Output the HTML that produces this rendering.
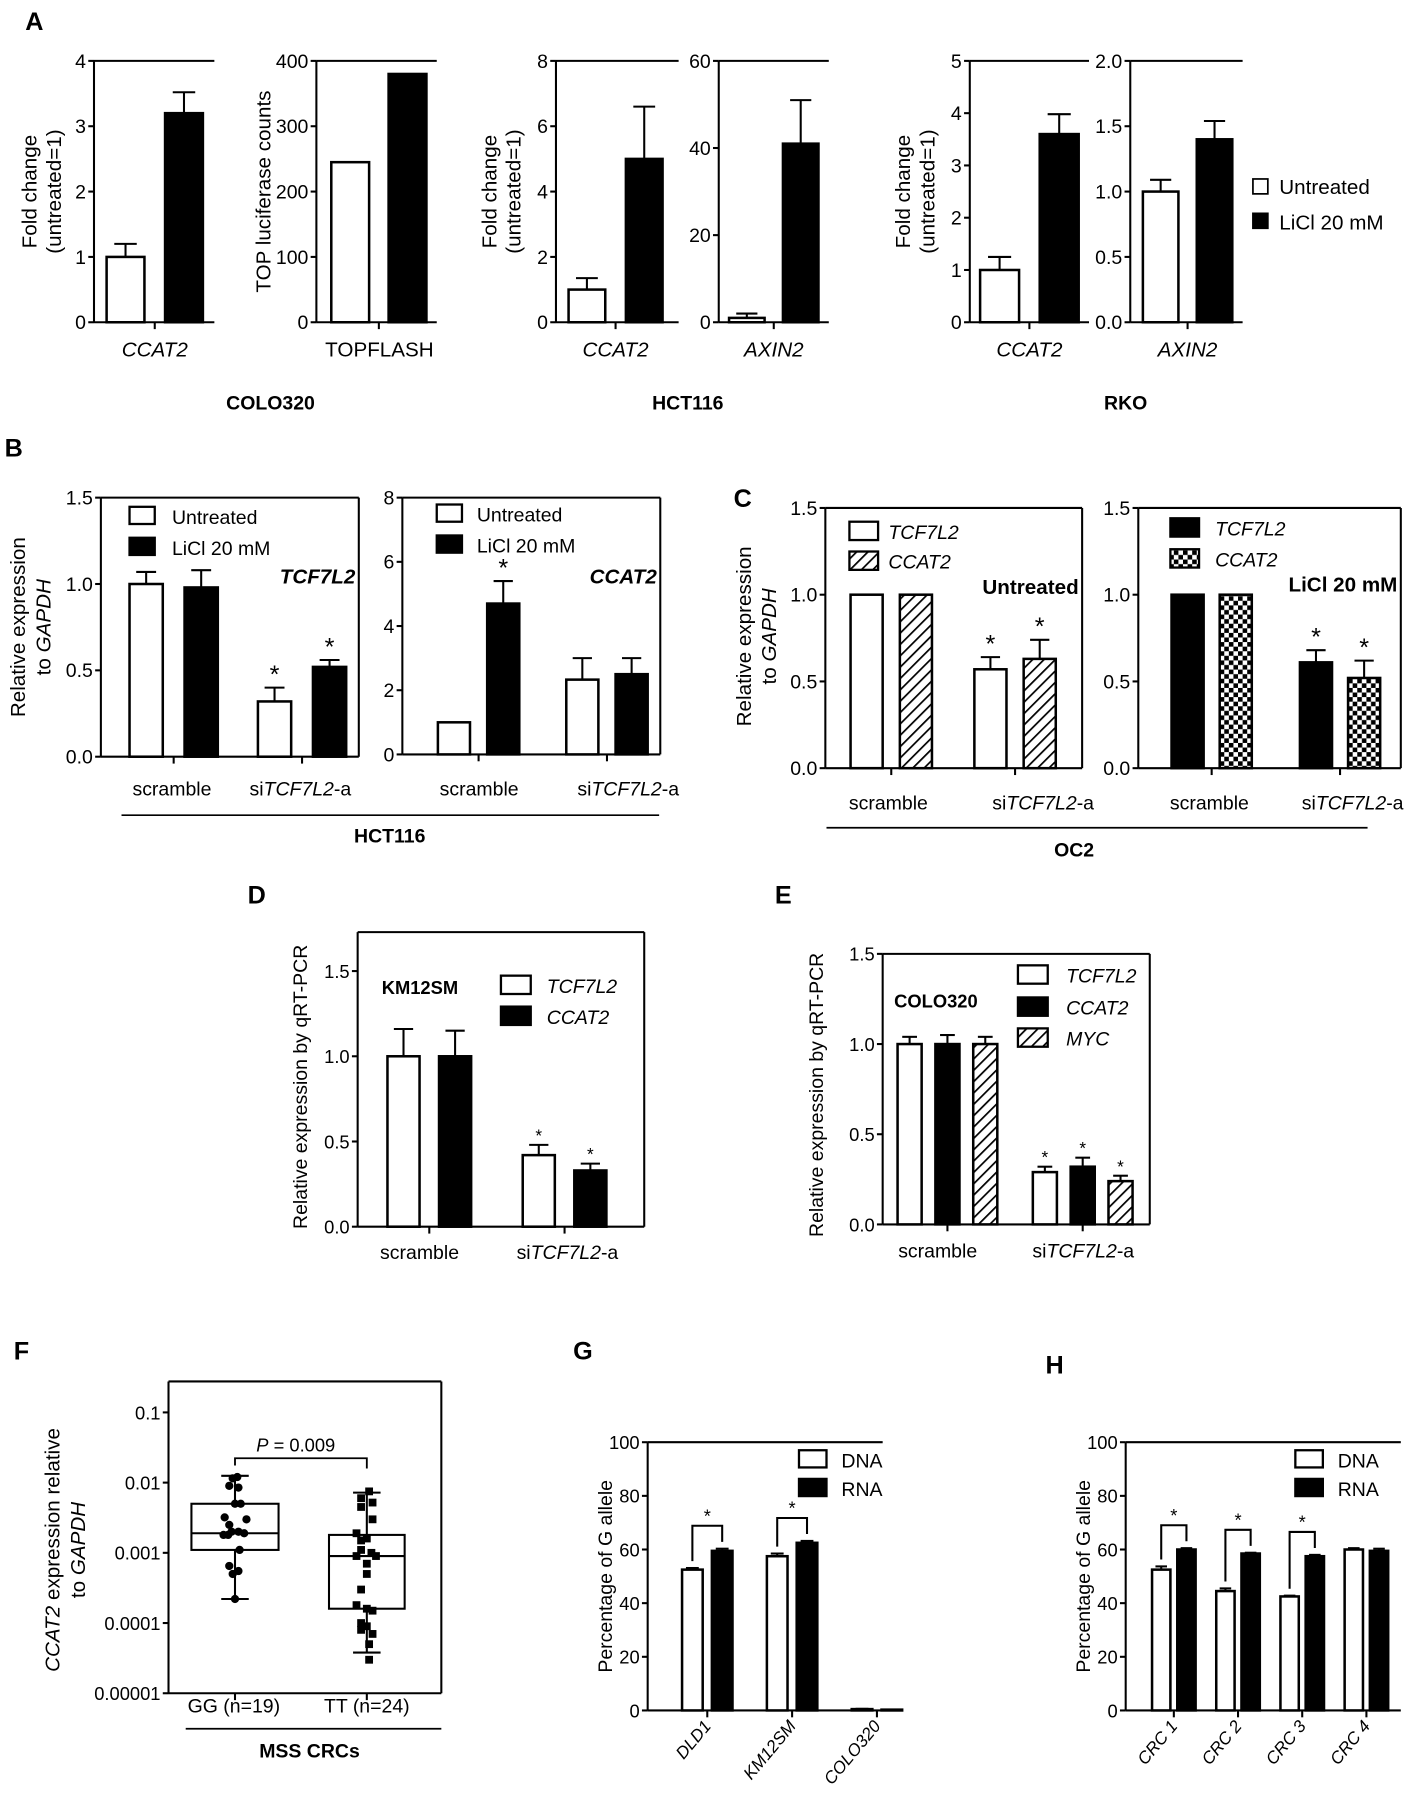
<!DOCTYPE html>
<html><head><meta charset="utf-8"><style>
html,body{margin:0;padding:0;background:#fff}
svg{display:block}
text{font-family:"Liberation Sans",sans-serif;fill:#000}
.b{font-weight:bold}.i{font-style:italic}
</style></head><body>
<svg id="fig" width="1418" height="1800" viewBox="0 0 1237 1570" xmlns="http://www.w3.org/2000/svg">
<defs>
<pattern id="hatch" patternUnits="userSpaceOnUse" width="7" height="7" patternTransform="rotate(45)"><rect width="7" height="7" fill="#fff"/><line x1="0" y1="0" x2="0" y2="7" stroke="#000" stroke-width="3"/></pattern>
<pattern id="check" patternUnits="userSpaceOnUse" width="8" height="8"><rect width="8" height="8" fill="#fff"/><rect width="4" height="4" fill="#000"/><rect x="4" y="4" width="4" height="4" fill="#000"/></pattern>
</defs>
<rect width="1237" height="1570" fill="#fff"/>
<g id="root"></g>
<!-- Panel letters -->
<text x="22" y="26" font-size="22" class="b">A</text>
<text x="4" y="398" font-size="22" class="b">B</text>
<text x="640" y="442" font-size="22" class="b">C</text>
<text x="216" y="788" font-size="22" class="b">D</text>
<text x="676" y="788" font-size="22" class="b">E</text>
<text x="12" y="1186" font-size="22" class="b">F</text>
<text x="500" y="1186" font-size="22" class="b">G</text>
<text x="912" y="1198" font-size="22" class="b">H</text>

<!-- A titles -->
<g font-size="18">
<text transform="translate(32,167) rotate(-90)" text-anchor="middle">Fold change</text>
<text transform="translate(53,167) rotate(-90)" text-anchor="middle">(untreated=1)</text>
<text transform="translate(236,167) rotate(-90)" text-anchor="middle">TOP luciferase counts</text>
<text transform="translate(433,167) rotate(-90)" text-anchor="middle">Fold change</text>
<text transform="translate(454,167) rotate(-90)" text-anchor="middle">(untreated=1)</text>
<text transform="translate(794,167) rotate(-90)" text-anchor="middle">Fold change</text>
<text transform="translate(815,167) rotate(-90)" text-anchor="middle">(untreated=1)</text>
</g>
<g font-size="18" text-anchor="middle">
<text x="135" y="311" class="i">CCAT2</text>
<text x="331" y="311">TOPFLASH</text>
<text x="537" y="311" class="i">CCAT2</text>
<text x="675" y="311" class="i">AXIN2</text>
<text x="898" y="311" class="i">CCAT2</text>
<text x="1036" y="311" class="i">AXIN2</text>
</g>
<g font-size="17" class="b" text-anchor="middle">
<text x="236" y="357">COLO320</text>
<text x="600" y="357">HCT116</text>
<text x="982" y="357">RKO</text>
</g>
<g font-size="18">
<rect x="1093" y="156" width="13" height="13" fill="#fff" stroke="#000" stroke-width="1.5"/>
<text x="1116" y="169">Untreated</text>
<rect x="1093" y="186" width="13" height="13" fill="#000" stroke="#000" stroke-width="1.5"/>
<text x="1116" y="200">LiCl 20 mM</text>
</g>

<!-- B -->
<text transform="translate(22,547) rotate(-90)" text-anchor="middle" font-size="18">Relative expression</text>
<text transform="translate(44,547) rotate(-90)" text-anchor="middle" font-size="18">to <tspan class="i">GAPDH</tspan></text>
<g font-size="17">
<rect x="113" y="442" width="22" height="15" fill="#fff" stroke="#000" stroke-width="2"/><text x="150" y="457">Untreated</text>
<rect x="113" y="469" width="22" height="15" fill="#000" stroke="#000" stroke-width="2"/><text x="150" y="484">LiCl 20 mM</text>
<rect x="381" y="440" width="22" height="15" fill="#fff" stroke="#000" stroke-width="2"/><text x="416" y="455">Untreated</text>
<rect x="381" y="467" width="22" height="15" fill="#000" stroke="#000" stroke-width="2"/><text x="416" y="482">LiCl 20 mM</text>
</g>
<text x="310" y="509" font-size="18" class="b i" text-anchor="end">TCF7L2</text>
<text x="573" y="509" font-size="18" class="b i" text-anchor="end">CCAT2</text>
<g font-size="17" text-anchor="middle">
<text x="150" y="694">scramble</text>
<text x="262" y="694">si<tspan class="i">TCF7L2</tspan>-a</text>
<text x="418" y="694">scramble</text>
<text x="548" y="694">si<tspan class="i">TCF7L2</tspan>-a</text>
</g>
<line x1="106" y1="711" x2="575" y2="711" stroke="#000" stroke-width="1.5"/>
<text x="340" y="735" font-size="17" class="b" text-anchor="middle">HCT116</text>

<!-- C -->
<text transform="translate(655,555) rotate(-90)" text-anchor="middle" font-size="18">Relative expression</text>
<text transform="translate(677,555) rotate(-90)" text-anchor="middle" font-size="18">to <tspan class="i">GAPDH</tspan></text>
<g font-size="17" class="i">
<rect x="741" y="455" width="25" height="16" fill="#fff" stroke="#000" stroke-width="2"/><text x="775" y="470">TCF7L2</text>
<rect x="741" y="481" width="25" height="16" fill="url(#hatch)" stroke="#000" stroke-width="2"/><text x="775" y="496">CCAT2</text>
<rect x="1021" y="452" width="25" height="16" fill="#000" stroke="#000" stroke-width="2"/><text x="1060" y="467">TCF7L2</text>
<rect x="1021" y="479" width="25" height="16" fill="url(#check)" stroke="#000" stroke-width="2"/><text x="1060" y="494">CCAT2</text>
</g>
<text x="941" y="518" font-size="18" class="b" text-anchor="end">Untreated</text>
<text x="1219" y="516" font-size="18" class="b" text-anchor="end">LiCl 20 mM</text>
<g font-size="17" text-anchor="middle">
<text x="775" y="706">scramble</text>
<text x="910" y="706">si<tspan class="i">TCF7L2</tspan>-a</text>
<text x="1055" y="706">scramble</text>
<text x="1180" y="706">si<tspan class="i">TCF7L2</tspan>-a</text>
</g>
<line x1="721" y1="722" x2="1193" y2="722" stroke="#000" stroke-width="1.5"/>
<text x="937" y="747" font-size="17" class="b" text-anchor="middle">OC2</text>

<!-- D -->
<text transform="translate(268,948) rotate(-90)" text-anchor="middle" font-size="17">Relative expression by qRT-PCR</text>
<text x="333" y="867" font-size="16" class="b">KM12SM</text>
<g font-size="17" class="i">
<rect x="437" y="851" width="26" height="16" fill="#fff" stroke="#000" stroke-width="2"/><text x="477" y="866">TCF7L2</text>
<rect x="437" y="878" width="26" height="16" fill="#000" stroke="#000" stroke-width="2"/><text x="477" y="893">CCAT2</text>
</g>
<g font-size="17" text-anchor="middle">
<text x="366" y="1098">scramble</text>
<text x="495" y="1098">si<tspan class="i">TCF7L2</tspan>-a</text>
</g>

<!-- E -->
<text transform="translate(718,955) rotate(-90)" text-anchor="middle" font-size="17">Relative expression by qRT-PCR</text>
<text x="780" y="879" font-size="16" class="b">COLO320</text>
<g font-size="17" class="i">
<rect x="888" y="842" width="26" height="16" fill="#fff" stroke="#000" stroke-width="2"/><text x="930" y="857">TCF7L2</text>
<rect x="888" y="870" width="26" height="16" fill="#000" stroke="#000" stroke-width="2"/><text x="930" y="885">CCAT2</text>
<rect x="888" y="897" width="26" height="16" fill="url(#hatch)" stroke="#000" stroke-width="2"/><text x="930" y="912">MYC</text>
</g>
<g font-size="17" text-anchor="middle">
<text x="818" y="1097">scramble</text>
<text x="945" y="1097">si<tspan class="i">TCF7L2</tspan>-a</text>
</g>

<!-- F -->
<text transform="translate(52,1352) rotate(-90)" text-anchor="middle" font-size="18"><tspan class="i">CCAT2</tspan> expression relative</text>
<text transform="translate(74,1352) rotate(-90)" text-anchor="middle" font-size="18">to <tspan class="i">GAPDH</tspan></text>
<text x="258" y="1266" font-size="16" text-anchor="middle"><tspan class="i">P</tspan> = 0.009</text>
<g font-size="17" text-anchor="middle">
<text x="204" y="1494">GG (n=19)</text>
<text x="320" y="1494">TT (n=24)</text>
</g>
<line x1="162" y1="1508" x2="385" y2="1508" stroke="#000" stroke-width="1.5"/>
<text x="270" y="1533" font-size="17" class="b" text-anchor="middle">MSS CRCs</text>

<!-- G/H -->
<text transform="translate(534,1375) rotate(-90)" text-anchor="middle" font-size="17">Percentage of G allele</text>
<text transform="translate(951,1375) rotate(-90)" text-anchor="middle" font-size="17">Percentage of G allele</text>
<g font-size="17">
<rect x="697" y="1265" width="24" height="15" fill="#fff" stroke="#000" stroke-width="2"/><text x="734" y="1280">DNA</text>
<rect x="697" y="1290" width="24" height="15" fill="#000" stroke="#000" stroke-width="2"/><text x="734" y="1305">RNA</text>
</g>
<g font-size="17">
<rect x="1130" y="1265" width="24" height="15" fill="#fff" stroke="#000" stroke-width="2"/><text x="1167" y="1280">DNA</text>
<rect x="1130" y="1290" width="24" height="15" fill="#000" stroke="#000" stroke-width="2"/><text x="1167" y="1305">RNA</text>
</g>
</svg>
<script>
// ---------- data ----------
const a1Untreated=[1.0], a1Licl=[3.2], a1UntrErr=[0.2], a1LiclErr=[0.32];
const a1Ticks=[0,1,2,3,4];
const a2Untreated=[245], a2Licl=[380];
const a2Ticks=[0,100,200,300,400];
const a3Untreated=[1.0], a3Licl=[5.0], a3UntrErr=[0.35], a3LiclErr=[1.6];
const a3Ticks=[0,2,4,6,8];
const a4Untreated=[1.0], a4Licl=[41], a4UntrErr=[1.0], a4LiclErr=[10];
const a4Ticks=[0,20,40,60];
const a5Untreated=[1.0], a5Licl=[3.6], a5UntrErr=[0.25], a5LiclErr=[0.38];
const a5Ticks=[0,1,2,3,4,5];
const a6Untreated=[1.0], a6Licl=[1.4], a6UntrErr=[0.09], a6LiclErr=[0.14];
const a6Ticks=[0,0.5,1.0,1.5,2.0];

const bCategories=['scramble','siTCF7L2-a'];
const b1Untreated=[1.0,0.32], b1Licl=[0.98,0.52], b1UntrErr=[0.07,0.08], b1LiclErr=[0.10,0.04];
const b1Stars=[[false,true],[false,true]];
const b1Ticks=[0,0.5,1.0,1.5];
const b2Untreated=[1.0,2.33], b2Licl=[4.7,2.5], b2UntrErr=[0,0.67], b2LiclErr=[0.7,0.5];
const b2Stars=[[false,false],[true,false]];
const b2Ticks=[0,2,4,6,8];

const c1Tcf=[1.0,0.57], c1Ccat=[1.0,0.63], c1TcfErr=[0,0.07], c1CcatErr=[0,0.11];
const c2Tcf=[1.0,0.61], c2Ccat=[1.0,0.52], c2TcfErr=[0,0.07], c2CcatErr=[0,0.10];
const cStars=[[false,true],[false,true]];
const cTicks=[0,0.5,1.0,1.5];

const dTcf=[1.0,0.42], dCcat=[1.0,0.33], dTcfErr=[0.16,0.06], dCcatErr=[0.15,0.04];
const dStars=[[false,true],[false,true]];
const dTicks=[0,0.5,1.0,1.5];

const eTcf=[1.0,0.29], eCcat=[1.0,0.32], eMyc=[1.0,0.24];
const eTcfErr=[0.04,0.03], eCcatErr=[0.05,0.05], eMycErr=[0.04,0.03];
const eStars=[[false,true],[false,true],[false,true]];
const eTicks=[0,0.5,1.0,1.5];

const fGroups=['GG (n=19)','TT (n=24)'];
const fGG=[0.012,0.0115,0.009,0.0085,0.005,0.005,0.0032,0.003,0.0025,0.002,0.002,0.0019,0.0018,0.0018,0.0011,0.00065,0.00055,0.0005,0.00022];
const fTT=[0.0075,0.006,0.0052,0.0045,0.003,0.0019,0.0016,0.0015,0.0011,0.0010,0.0009,0.0009,0.0007,0.0005,0.0003,0.00018,0.00016,0.00015,0.0001,0.00009,0.00008,0.00007,0.00005,0.00003];
const fGGJitter=[2,-2,-5,3,0,5,-9,10,-5,-3,3,8,-10,-6,4,-5,3,-2,0];
const fTTJitter=[2,-5,5,-5,5,-9,0,-5,-5,4,8,-9,0,0,-5,-9,0,5,-5,0,-5,5,2,2];
const fGGBox={lo:0.00022,q1:0.0011,med:0.0019,q3:0.005,hi:0.0125};
const fTTBox={lo:0.000038,q1:0.00016,med:0.0009,q3:0.0018,hi:0.0072};
const fTicks=[0.00001,0.0001,0.001,0.01,0.1];
const fTickLabels=['0.00001','0.0001','0.001','0.01','0.1'];

const gCategories=['DLD1','KM12SM','COLO320'];
const gDna=[52.5,57.5,0.5], gRna=[59.5,62.5,0.3], gDnaErr=[0.6,1.0,0.1], gRnaErr=[0.8,0.7,0];
const gSig=[true,true,false];
const hCategories=['CRC 1','CRC 2','CRC 3','CRC 4'];
const hDna=[52.5,44.5,42.5,60], hRna=[60,58.5,57.5,59.5], hDnaErr=[1.2,1.0,0.3,0.5], hRnaErr=[0.5,0.3,0.5,0.8];
const hSig=[true,true,true,false];
const ghTicks=[0,20,40,60,80,100];

// ---------- drawing ----------
const NS='http://www.w3.org/2000/svg';
const root=document.getElementById('root');
function mk(tag,parent){const e=document.createElementNS(NS,tag);parent.appendChild(e);return e;}
function line(p,x1,y1,x2,y2,w){const l=mk('line',p);l.setAttribute('x1',x1);l.setAttribute('y1',y1);l.setAttribute('x2',x2);l.setAttribute('y2',y2);l.setAttribute('stroke','#000');l.setAttribute('stroke-width',w||1.8);return l;}
function fmt(v,dec){return dec?v.toFixed(dec):String(v);}

function panel(c){
  const g=mk('g',root);
  
  
  const y=v=>c.yb-(v-c.min)/(c.max-c.min)*(c.yb-c.ymaxPx);
  const top=c.top!==undefined?c.top:c.ymaxPx;
  const ax=line(g,c.x0,top,c.x0,c.yb);
  
  
  const bx=line(g,c.x0,c.yb,c.x1,c.yb);
  
  
  if(c.frameTop){const t=line(g,c.x0,top,c.x1,top);}
  if(c.frameRight){const r=line(g,c.x1,top,c.x1,c.yb);}
  c.ticks.forEach(v=>{
    const yy=y(v);
    line(g,c.x0-5,yy,c.x0,yy);
    const t=mk('text',g);
    
    
    t.setAttribute('x',c.x0-7);t.setAttribute('y',yy+6);t.setAttribute('text-anchor','end');t.setAttribute('font-size',c.fs||17);
    t.textContent=fmt(v,c.dec);
  });
  const nG=c.series[0].vals.length, nS=c.series.length;
  for(let gi=0;gi<nG;gi++){
    const gx=c.x0+c.pad+gi*(c.gs||0);
    const cx=gx+(nS*c.bw+(nS-1)*c.gap)/2;
    if(c.catTicks!==false) line(g,cx,c.yb,cx,c.yb+6);
    c.series.forEach((s,si)=>{
      const bx0=gx+si*(c.bw+c.gap);
      const v=s.vals[gi];
      const yv=y(v);
      if(s.errs){
        const e=s.errs[gi];
        if(e>0){const ye=y(v+e);const cw=c.bw*0.28;line(g,bx0+c.bw/2,yv,bx0+c.bw/2,ye);line(g,bx0+c.bw/2-cw,ye,bx0+c.bw/2+cw,ye);}
      }
      const r=mk('rect',g);
      
      
      r.setAttribute('x',bx0+1);r.setAttribute('y',yv);r.setAttribute('width',c.bw-2);r.setAttribute('height',Math.max(0,c.yb-yv));
      r.setAttribute('fill',s.fill);r.setAttribute('stroke','#000');r.setAttribute('stroke-width',2.2);
      if(c.stars&&c.stars[si][gi]){
        const ye=y(v+(s.errs?s.errs[gi]:0));
        const st=mk('text',g);
        
        
        st.setAttribute('x',bx0+c.bw/2);st.setAttribute('y',ye-(c.starGap||4));st.setAttribute('text-anchor','middle');st.setAttribute('font-size',c.starFs||22);
        st.textContent='*';
      }
    });
    if(c.sig&&c.sig[gi]){
      const s0=c.series[0],s1=c.series[1];
      const xa=gx+c.bw/2, xb=gx+c.bw+c.gap+c.bw/2;
      const ya=y(s0.vals[gi]+s0.errs[gi])-6, yb2=y(s1.vals[gi]+s1.errs[gi])-6;
      const yt=Math.min(ya,yb2)-14;
      const pl=mk('polyline',g);
      
      
      pl.setAttribute('points',`${xa},${ya} ${xa},${yt} ${xb},${yt} ${xb},${yb2}`);
      pl.setAttribute('fill','none');pl.setAttribute('stroke','#000');pl.setAttribute('stroke-width',1.8);
      const st=mk('text',g);
      
      
      st.setAttribute('x',(xa+xb)/2);st.setAttribute('y',yt-3);st.setAttribute('text-anchor','middle');st.setAttribute('font-size',16);
      st.textContent='*';
    }
    if(c.rotCats){
      const t=mk('text',g);
      
      
      t.setAttribute('transform',`translate(${cx+4},${c.yb+14}) rotate(-50)`);t.setAttribute('text-anchor','end');t.setAttribute('font-size',15);t.setAttribute('font-style','italic');
      t.textContent=c.rotCats[gi];
    }
  }
}

const W='#fff',K='#000',H='url(#hatch)',C='url(#check)';
panel({name:'a1-colo320-ccat2',x0:82,x1:187,yb:281,ymaxPx:53,min:0,max:4,ticks:a1Ticks,frameTop:true,pad:10,bw:35,gap:16,
  series:[{key:'untreated',vals:a1Untreated,errs:a1UntrErr,fill:W},{key:'licl',vals:a1Licl,errs:a1LiclErr,fill:K}]});
panel({name:'a2-colo320-topflash',x0:276,x1:381,yb:281,ymaxPx:53,min:0,max:400,ticks:a2Ticks,frameTop:true,pad:12,bw:35,gap:15,
  series:[{key:'untreated',vals:a2Untreated,fill:W},{key:'licl',vals:a2Licl,fill:K}]});
panel({name:'a3-hct116-ccat2',x0:485,x1:592,yb:281,ymaxPx:53,min:0,max:8,ticks:a3Ticks,frameTop:true,pad:10,bw:34,gap:16,
  series:[{key:'untreated',vals:a3Untreated,errs:a3UntrErr,fill:W},{key:'licl',vals:a3Licl,errs:a3LiclErr,fill:K}]});
panel({name:'a4-hct116-axin2',x0:627,x1:723,yb:281,ymaxPx:53,min:0,max:60,ticks:a4Ticks,frameTop:true,pad:8,bw:33,gap:14,
  series:[{key:'untreated',vals:a4Untreated,errs:a4UntrErr,fill:W},{key:'licl',vals:a4Licl,errs:a4LiclErr,fill:K}]});
panel({name:'a5-rko-ccat2',x0:846,x1:950,yb:281,ymaxPx:53,min:0,max:5,ticks:a5Ticks,frameTop:true,pad:8,bw:36,gap:16,
  series:[{key:'untreated',vals:a5Untreated,errs:a5UntrErr,fill:W},{key:'licl',vals:a5Licl,errs:a5LiclErr,fill:K}]});
panel({name:'a6-rko-axin2',x0:986,x1:1084,yb:281,ymaxPx:53,min:0,max:2,ticks:a6Ticks,dec:1,frameTop:true,pad:10,bw:33,gap:14,
  series:[{key:'untreated',vals:a6Untreated,errs:a6UntrErr,fill:W},{key:'licl',vals:a6Licl,errs:a6LiclErr,fill:K}]});

panel({name:'b1-tcf7l2',x0:88,x1:313,yb:660,ymaxPx:434,min:0,max:1.5,ticks:b1Ticks,dec:1,frameTop:true,frameRight:true,pad:24,bw:31,gap:17,gs:112,stars:b1Stars,
  series:[{key:'untreated',vals:b1Untreated,errs:b1UntrErr,fill:W},{key:'licl',vals:b1Licl,errs:b1LiclErr,fill:K}]});
panel({name:'b2-ccat2',x0:351,x1:576,yb:658,ymaxPx:434,min:0,max:8,ticks:b2Ticks,frameTop:true,frameRight:true,pad:30,bw:30,gap:13,gs:112,stars:b2Stars,
  series:[{key:'untreated',vals:b2Untreated,errs:b2UntrErr,fill:W},{key:'licl',vals:b2Licl,errs:b2LiclErr,fill:K}]});

panel({name:'c1-untreated',x0:720,x1:944,yb:670,ymaxPx:443,min:0,max:1.5,ticks:cTicks,dec:1,frameTop:true,frameRight:true,pad:21,bw:30,gap:13,gs:108,stars:cStars,
  series:[{key:'tcf7l2',vals:c1Tcf,errs:c1TcfErr,fill:W},{key:'ccat2',vals:c1Ccat,errs:c1CcatErr,fill:H}]});
panel({name:'c2-licl',x0:993,x1:1222,yb:670,ymaxPx:443,min:0,max:1.5,ticks:cTicks,dec:1,frameTop:true,frameRight:true,pad:28,bw:30,gap:12,gs:112,stars:cStars,
  series:[{key:'tcf7l2',vals:c2Tcf,errs:c2TcfErr,fill:K},{key:'ccat2',vals:c2Ccat,errs:c2CcatErr,fill:C}]});

panel({name:'d-km12sm',x0:312,x1:562,yb:1070,ymaxPx:847,top:813,min:0,max:1.5,ticks:dTicks,dec:1,frameTop:true,frameRight:true,pad:25,bw:30,gap:15,gs:118,stars:dStars,starFs:15,starGap:3,fs:16,
  series:[{key:'tcf7l2',vals:dTcf,errs:dTcfErr,fill:W},{key:'ccat2',vals:dCcat,errs:dCcatErr,fill:K}]});
panel({name:'e-colo320',x0:770,x1:1003,yb:1068,ymaxPx:832,min:0,max:1.5,ticks:eTicks,dec:1,frameTop:true,frameRight:true,pad:12,bw:23,gap:10,gs:118,stars:eStars,starFs:15,starGap:3,fs:16,
  series:[{key:'tcf7l2',vals:eTcf,errs:eTcfErr,fill:W},{key:'ccat2',vals:eCcat,errs:eCcatErr,fill:K},{key:'myc',vals:eMyc,errs:eMycErr,fill:H}]});

panel({name:'g-cell-lines',x0:565,x1:770,yb:1492,ymaxPx:1258,min:0,max:100,ticks:ghTicks,frameTop:true,pad:29,bw:20,gap:6,gs:74,sig:gSig,rotCats:gCategories,fs:16,
  series:[{key:'dna',vals:gDna,errs:gDnaErr,fill:W},{key:'rna',vals:gRna,errs:gRnaErr,fill:K}]});
panel({name:'h-crc-tumors',x0:982,x1:1222,yb:1492,ymaxPx:1258,min:0,max:100,ticks:ghTicks,frameTop:true,pad:22,bw:18,gap:4,gs:56,sig:hSig,rotCats:hCategories,fs:16,
  series:[{key:'dna',vals:hDna,errs:hDnaErr,fill:W},{key:'rna',vals:hRna,errs:hRnaErr,fill:K}]});

// ---------- panel F (log box plot) ----------
(function(){
  const g=mk('g',root);
  
  
  const x0=147,x1=385,yb=1477,yt=1232,top=1205;
  const y=v=>yb-(Math.log10(v)+5)/4*(yb-yt);
  line(g,x0,top,x0,yb);line(g,x0,yb,x1,yb);line(g,x0,top,x1,top);line(g,x1,top,x1,yb);
  fTicks.forEach((v,i)=>{
    const yy=y(v);line(g,x0-5,yy,x0,yy);
    const t=mk('text',g);
    
    
    t.setAttribute('x',x0-7);t.setAttribute('y',yy+6);t.setAttribute('text-anchor','end');t.setAttribute('font-size',16);
    t.textContent=fTickLabels[i];
  });
  const groups=[{c:205,hw:38,box:fGGBox,pts:fGG,jit:fGGJitter,shape:'circle'},{c:320,hw:33,box:fTTBox,pts:fTT,jit:fTTJitter,shape:'square'}];
  groups.forEach((gr,gi)=>{
    line(g,gr.c,yb,gr.c,yb+6);
    const b=gr.box;
    const r=mk('rect',g);
    
    
    r.setAttribute('x',gr.c-gr.hw);r.setAttribute('y',y(b.q3));r.setAttribute('width',gr.hw*2);r.setAttribute('height',y(b.q1)-y(b.q3));
    r.setAttribute('fill','none');r.setAttribute('stroke','#000');r.setAttribute('stroke-width',1.8);
    line(g,gr.c-gr.hw,y(b.med),gr.c+gr.hw,y(b.med));
    line(g,gr.c,y(b.q3),gr.c,y(b.hi));line(g,gr.c,y(b.q1),gr.c,y(b.lo));
    line(g,gr.c-12,y(b.hi),gr.c+12,y(b.hi));line(g,gr.c-12,y(b.lo),gr.c+12,y(b.lo));
    gr.pts.forEach((v,i)=>{
      let p;
      if(gr.shape==='circle'){p=mk('circle',g);p.setAttribute('cx',gr.c+gr.jit[i]);p.setAttribute('cy',y(v));p.setAttribute('r',3.6);}
      else{p=mk('rect',g);p.setAttribute('x',gr.c+gr.jit[i]-3.4);p.setAttribute('y',y(v)-3.4);p.setAttribute('width',6.8);p.setAttribute('height',6.8);}
      
      
      p.setAttribute('fill','#000');
    });
  });
  const pl=mk('polyline',g);
  
  
  pl.setAttribute('points',`205,${y(0.013)-8} 205,1272 320,1272 320,${y(0.0075)-20}`);
  pl.setAttribute('fill','none');pl.setAttribute('stroke','#000');pl.setAttribute('stroke-width',1.6);
})();
</script>
</body></html>
